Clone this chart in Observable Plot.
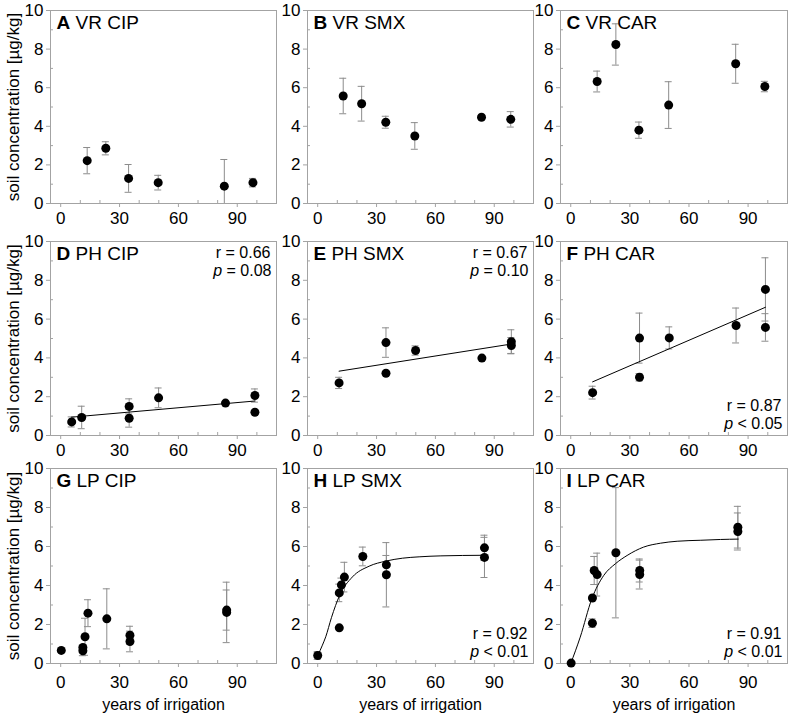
<!DOCTYPE html>
<html><head><meta charset="utf-8">
<script src="https://cdn.jsdelivr.net/npm/d3@7"></script>
<script src="https://cdn.jsdelivr.net/npm/@observablehq/plot@0.6"></script>
<style>
body{margin:0;background:#fff;}
#chart{position:relative;width:790px;height:717px;background:#fff;font-family:"Liberation Sans",Arial,sans-serif;}
#chart svg{position:absolute;overflow:visible;}
</style></head><body><div id="chart"></div>
<script>
// ---------- data (years of irrigation, soil concentration µg/kg, error) ----------
const vrCipX = [13.5, 23, 34.6, 49.7, 83.4, 98];
const vrCipY = [2.22, 2.86, 1.3, 1.08, 0.9, 1.08];
const vrCipE = [0.68, 0.34, 0.72, 0.38, 1.38, 0.22];

const vrSmxX = [13, 22.4, 34.7, 49.5, 83.5, 98.4];
const vrSmxY = [5.57, 5.17, 4.21, 3.5, 4.47, 4.36];
const vrSmxE = [0.92, 0.9, 0.31, 0.69, 0, 0.4];

const vrCarX = [13.4, 22.9, 34.6, 49.7, 83.7, 98.5];
const vrCarY = [6.32, 8.24, 3.8, 5.1, 7.24, 6.06];
const vrCarE = [0.54, 1.07, 0.42, 1.21, 1.01, 0.27];

const phCipX = [5.6, 10.7, 34.9, 34.9, 49.9, 84, 99, 99];
const phCipY = [0.7, 0.93, 1.5, 0.89, 1.94, 1.67, 2.06, 1.2];
const phCipE = [0.26, 0.58, 0.39, 0.46, 0.51, 0, 0.34, 0];

const phSmxX = [10.9, 34.8, 34.8, 49.9, 83.7, 98.7, 98.7];
const phSmxY = [2.71, 4.79, 3.21, 4.38, 3.99, 4.83, 4.64];
const phSmxE = [0.29, 0.76, 0, 0.24, 0, 0.62, 0.41];

const phCarX = [11.1, 34.9, 34.9, 50, 83.9, 98.8, 98.8];
const phCarY = [2.21, 5.02, 3.0, 5.03, 5.67, 7.53, 5.57];
const phCarE = [0.33, 1.29, 0.19, 0.57, 0.9, 1.63, 0.71];

const lpCipX = [0.3, 11.3, 11.3, 12.4, 13.9, 23.5, 35.3, 35.3, 84.6, 84.6];
const lpCipY = [0.67, 0.82, 0.65, 1.37, 2.58, 2.29, 1.45, 1.13, 2.74, 2.62];
const lpCipE = [0.06, 0.1, 0.25, 0.95, 0.69, 1.54, 0.46, 0.53, 1.03, 1.55];

const lpSmxX = [0, 11, 11, 12.1, 13.6, 23, 35, 35, 85, 85];
const lpSmxY = [0.41, 1.83, 3.62, 4.03, 4.43, 5.49, 5.06, 4.55, 5.93, 5.44];
const lpSmxE = [0.2, 0, 0.45, 0.35, 0.76, 0.48, 0.48, 1.65, 0.65, 1.03];

const lpCarX = [0.2, 11, 11, 11.9, 13.4, 22.9, 35, 35, 84.8, 84.8];
const lpCarY = [0.02, 2.07, 3.36, 4.77, 4.56, 5.68, 4.77, 4.56, 6.99, 6.77];
const lpCarE = [0, 0.22, 0, 0.72, 1.1, 3.34, 0.59, 0.74, 1.07, 0.95];

// fitted saturation curves
const lpSmxCurveX = [0, 2.4, 4.1, 7, 11.2, 17.7, 26.2, 34.7, 43.2, 51.7, 62.8, 85];
const lpSmxCurveY = [0.4, 0.94, 1.37, 2.35, 3.5, 4.44, 4.99, 5.25, 5.40, 5.47, 5.52, 5.55];
const lpCarCurveX = [0, 4.8, 10.7, 16.7, 22.6, 28.6, 37, 45.6, 54, 66, 76, 85];
const lpCarCurveY = [0, 1.35, 3.32, 4.51, 5.11, 5.54, 5.97, 6.17, 6.27, 6.32, 6.36, 6.38];

// labels
const panelLetters = ["A","B","C","D","E","F","G","H","I"];
const panelNames = ["VR CIP","VR SMX","VR CAR","PH CIP","PH SMX","PH CAR","LP CIP","LP SMX","LP CAR"];
const statR = [null,null,null,"r = 0.66","r = 0.67","r = 0.87",null,"r = 0.92","r = 0.91"];
const statP = [null,null,null,"= 0.08","= 0.10","< 0.05",null,"< 0.01","< 0.01"];
const xTicks = [0, 30, 60, 90];
const xMinor = [10, 20, 40, 50, 70, 80, 100];
const yTicks = [0, 2, 4, 6, 8, 10];
const yMinor = [1, 3, 5, 7, 9];
const xTitle = "years of irrigation";
const yTitle = "soil concentration [µg/kg]";

// ---------- layout ----------
const FONT = "Liberation Sans, Arial, sans-serif";
const frameL = [50, 307, 560], frameR = [276, 533, 787];
const frameT = [10, 241, 468], frameB = [203, 435, 663];
const XD = [-5.2, 110];
const GRAY = "#a3a3a3", BAR = "#8c8c8c";
const TICK_FS = 17, STAT_FS = 16, TITLE_FS = 19;

const ctx = document.createElement("canvas").getContext("2d");
function tw(s, font) { ctx.font = font; return ctx.measureText(s).width; }

const series = [
  [vrCipX, vrCipY, vrCipE, null], [vrSmxX, vrSmxY, vrSmxE, null], [vrCarX, vrCarY, vrCarE, null],
  [phCipX, phCipY, phCipE, "lin"], [phSmxX, phSmxY, phSmxE, "lin"], [phCarX, phCarY, phCarE, "lin"],
  [lpCipX, lpCipY, lpCipE, null], [lpSmxX, lpSmxY, lpSmxE, [lpSmxCurveX, lpSmxCurveY]], [lpCarX, lpCarY, lpCarE, [lpCarCurveX, lpCarCurveY]]
];
const statTop = [false,false,false,true,true,false,false,false,false];

const chart = document.getElementById("chart");
series.forEach(([xs, ys, es, fit], k) => {
  const col = k % 3, row = Math.floor(k / 3);
  const ML = col === 0 ? 50 : 45, MR = 4, MT = 10, MB = row === 2 ? 54 : 26;
  const fl = frameL[col], fr = frameR[col], ft = frameT[row], fb = frameB[row];
  const width = fr - fl + ML + MR, height = fb - ft + MT + MB;
  const data = xs.map((x, i) => ({x, y: ys[i], e: es[i]}));
  const bars = data.filter(d => d.e > 0);
  const marks = [
    Plot.frame({stroke: GRAY}),
    Plot.ruleX(xMinor, {x: d => d, y1: 0, y2: 0, insetTop: -3, stroke: GRAY}),
    Plot.ruleY(yMinor, {y: d => d, x1: XD[0], x2: XD[0], insetRight: -3, stroke: GRAY}),
    Plot.axisX({ticks: xTicks, tickSize: 4, tickPadding: row === 2 ? 8 : 4, stroke: GRAY, fill: "black", label: null, fontSize: TICK_FS}),
    Plot.axisY({ticks: yTicks, tickSize: 4, tickPadding: 3, stroke: GRAY, fill: "black", label: null, fontSize: TICK_FS}),
    Plot.ruleX(bars, {x: "x", y1: d => d.y - d.e, y2: d => d.y + d.e, stroke: BAR, clip: true}),
    Plot.ruleY(bars, {y: d => d.y + d.e, x1: "x", x2: "x", insetLeft: -3.5, insetRight: -3.5, stroke: BAR, clip: true}),
    Plot.ruleY(bars, {y: d => d.y - d.e, x1: "x", x2: "x", insetLeft: -3.5, insetRight: -3.5, stroke: BAR, clip: true})
  ];
  if (fit === "lin") marks.push(Plot.linearRegressionY(data, {x: "x", y: "y", ci: 0, stroke: "black", strokeWidth: 1}));
  else if (fit) marks.push(Plot.line(fit[0].map((x, i) => ({x, y: fit[1][i]})), {x: "x", y: "y", curve: "monotone-x", stroke: "black", strokeWidth: 1}));
  marks.push(Plot.dot(data, {x: "x", y: "y", r: 4.5, fill: "black"}));
  // panel title
  const lw = tw(panelLetters[k], `bold ${TITLE_FS}px ${FONT}`) + tw(" ", `${TITLE_FS}px ${FONT}`);
  marks.push(Plot.text([panelLetters[k]], {text: d => d, frameAnchor: "top-left", dx: 6, dy: 5, lineAnchor: "top", textAnchor: "start", fontWeight: "bold", fontSize: TITLE_FS, fill: "black"}));
  marks.push(Plot.text([panelNames[k]], {text: d => d, frameAnchor: "top-left", dx: 6 + lw, dy: 5, lineAnchor: "top", textAnchor: "start", fontSize: TITLE_FS, fill: "black"}));
  // stats
  if (statR[k]) {
    const top = statTop[k];
    const fa = top ? "top-right" : "bottom-right";
    const asc = 0.71 * STAT_FS;
    const dyR = top ? 16 - asc : -25 - asc, dyP = top ? 34 - asc : -7 - asc;
    const pw = tw(statP[k], `${STAT_FS}px ${FONT}`) + tw(" ", `${STAT_FS}px ${FONT}`);
    marks.push(Plot.text([statR[k]], {text: d => d, frameAnchor: fa, dx: -6, dy: dyR, lineAnchor: "top", textAnchor: "end", fontSize: STAT_FS, fill: "black"}));
    marks.push(Plot.text([statP[k]], {text: d => d, frameAnchor: fa, dx: -5, dy: dyP, lineAnchor: "top", textAnchor: "end", fontSize: STAT_FS, fill: "black"}));
    marks.push(Plot.text(["p"], {text: d => d, frameAnchor: fa, dx: -5 - pw, dy: dyP, lineAnchor: "top", textAnchor: "end", fontSize: STAT_FS, fontStyle: "italic", fill: "black"}));
  }
  if (col === 0) marks.push(Plot.text([yTitle], {text: d => d, frameAnchor: "left", rotate: -90, dx: -37, lineAnchor: "middle", textAnchor: "middle", fontSize: 17, fill: "black"}));
  if (row === 2) marks.push(Plot.text([xTitle], {text: d => d, frameAnchor: "bottom", dy: 35, lineAnchor: "top", textAnchor: "middle", fontSize: 16, fill: "black"}));

  const svg = Plot.plot({
    width, height, marginLeft: ML, marginRight: MR, marginTop: MT, marginBottom: MB,
    x: {domain: XD}, y: {domain: [0, 10]},
    style: {fontFamily: FONT, fontSize: "16px", background: "transparent", overflow: "visible", color: "black"},
    marks
  });
  svg.style.left = (fl - ML) + "px";
  svg.style.top = (ft - MT) + "px";
  svg.style.maxWidth = "none";
  chart.appendChild(svg);
});
</script>
</body></html>
